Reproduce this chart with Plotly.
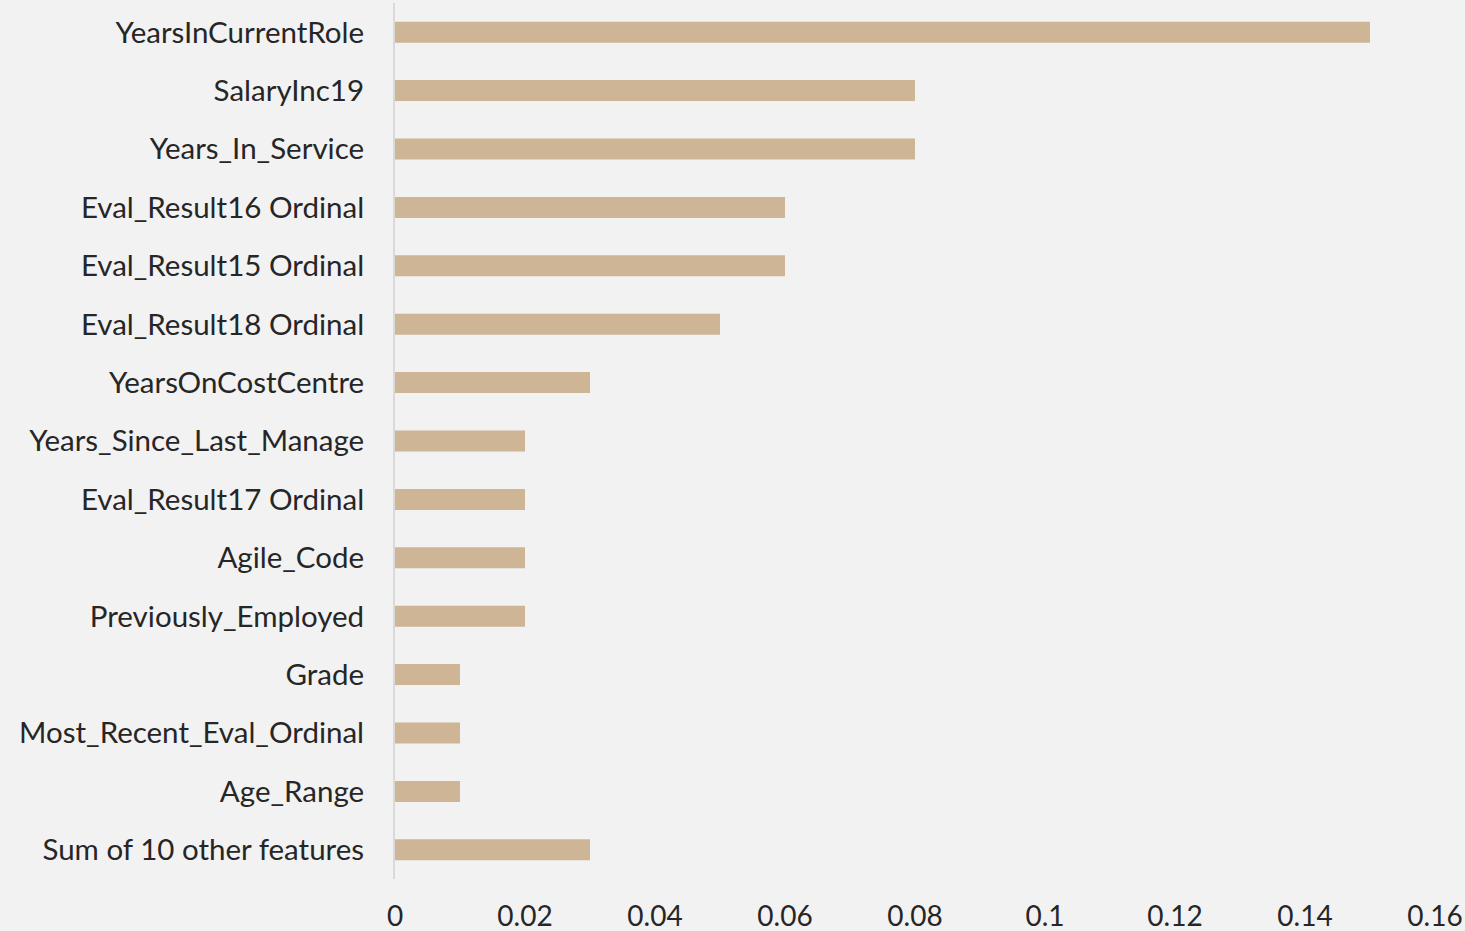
import plotly.graph_objects as go

features = [
    "YearsInCurrentRole", "SalaryInc19", "Years_In_Service", "Eval_Result16 Ordinal",
    "Eval_Result15 Ordinal", "Eval_Result18 Ordinal", "YearsOnCostCentre",
    "Years_Since_Last_Manage", "Eval_Result17 Ordinal", "Agile_Code",
    "Previously_Employed", "Grade", "Most_Recent_Eval_Ordinal", "Age_Range",
    "Sum of 10 other features",
]
importance = [0.15, 0.08, 0.08, 0.06, 0.06, 0.05, 0.03, 0.02, 0.02, 0.02, 0.02, 0.01, 0.01, 0.01, 0.03]
x_ticks = [0, 0.02, 0.04, 0.06, 0.08, 0.1, 0.12, 0.14, 0.16]
x_tick_text = ["0", "0.02", "0.04", "0.06", "0.08", "0.1", "0.12", "0.14", "0.16"]

fig = go.Figure(go.Bar(
    x=importance, y=features, orientation="h",
    marker=dict(color="#CDB595", line=dict(width=0)),
))

fig.update_layout(
    width=1465, height=931,
    paper_bgcolor="#F2F2F2", plot_bgcolor="#F2F2F2",
    margin=dict(l=395, r=30, t=3, b=52),
    bargap=0.64,
    font=dict(family="Lato", size=29.5, color="#262626"),
    showlegend=False,
)
fig.update_xaxes(
    range=[0, 0.16], tickvals=x_ticks, ticktext=x_tick_text,
    showgrid=False, zeroline=False, showline=False, automargin=False,
    ticks="outside", ticklen=12, tickcolor="rgba(0,0,0,0)",
    tickfont=dict(size=28),
)
fig.update_yaxes(
    categoryorder="array", categoryarray=features, autorange="reversed",
    showgrid=False, zeroline=False, showline=True, linecolor="#D9D9D9", linewidth=2,
    automargin=False,
    ticks="outside", ticklen=23, tickcolor="rgba(0,0,0,0)",
)

fig.write_html("out.html", config={"displayModeBar": False},
               post_script="document.body.style.margin='0';")
